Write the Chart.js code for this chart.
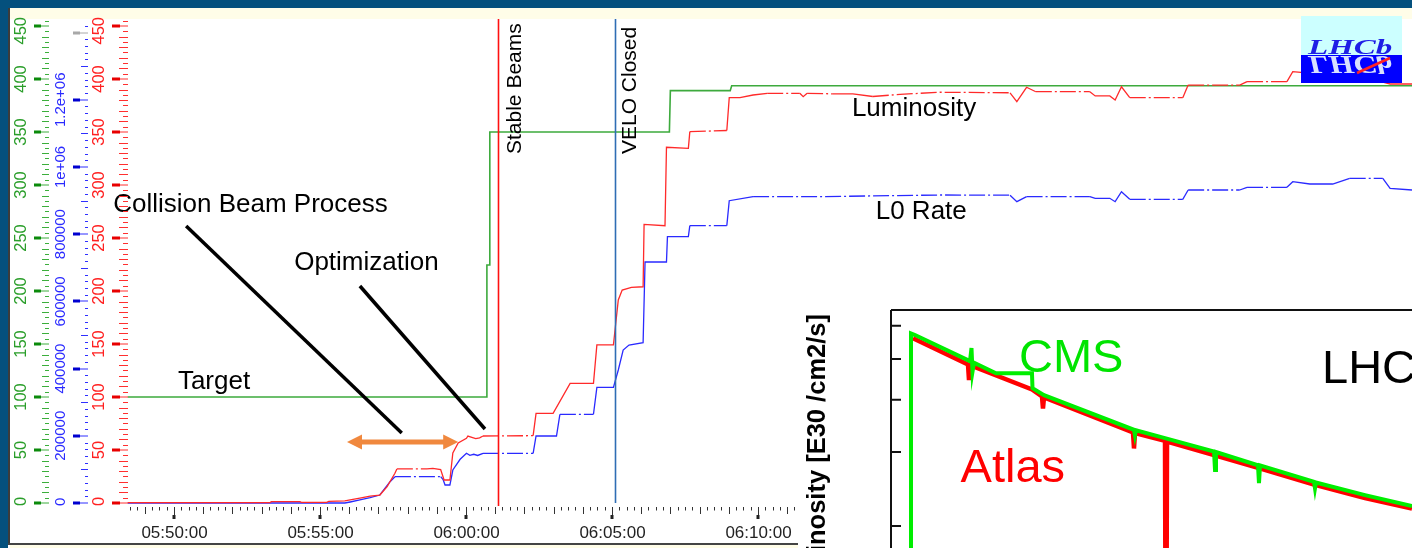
<!DOCTYPE html>
<html><head><meta charset="utf-8">
<script src="https://cdn.jsdelivr.net/npm/chart.js"></script>
<style>
html,body{margin:0;padding:0;background:#fff;width:1412px;height:548px;overflow:hidden;}
.abs{position:absolute;}
</style></head><body>
<div class="abs" style="left:0;top:0;width:1412px;height:8px;background:#04507d"></div>
<div class="abs" style="left:0;top:0;width:8px;height:548px;background:#04507d"></div>
<div class="abs" style="left:10px;top:8px;width:1402px;height:11px;background:#fffde8"></div>
<div class="abs" style="left:8px;top:8px;width:2px;height:537px;background:#3c3c3c"></div>
<div class="abs" style="left:8px;top:543px;width:792px;height:2px;background:#444"></div>
<div class="abs" style="left:10px;top:545px;width:790px;height:3px;background:#fffde8"></div>
<canvas id="main" class="abs" width="1412" height="548" style="left:0;top:0"></canvas>
<div id="inset" class="abs" style="left:798px;top:291px;width:614px;height:257px;background:#fff;overflow:hidden">
  <canvas id="insetChart" width="614" height="400" style="position:absolute;left:0;top:0"></canvas>
</div>
<canvas id="logo" class="abs" width="101" height="67" style="left:1301px;top:16px"></canvas>
<script>
// ---------------- DATA ----------------
const axisStart = '05:48:25.5', axisEnd = '06:32:24';
const lumiAxisMax = 455.66;       // green / red axes
const rateAxisMax = 1437400;      // blue axis

const lumiTimes = ['05:48:25','05:53:17','05:53:20','05:54:19','05:54:22','05:55:14','05:55:18','05:55:51','05:56:02','05:56:22','05:56:43','05:57:03','05:57:18','05:57:34','05:57:38','05:58:40','05:58:52','05:59:08','05:59:15','05:59:27','05:59:33','05:59:44','06:00:01','06:00:04','06:00:12','06:00:20','06:00:28','06:00:35','06:02:18','06:02:24','06:02:59','06:03:34','06:04:22','06:04:29','06:05:03','06:05:13','06:05:21','06:05:40','06:06:04','06:06:06','06:06:49','06:06:52','06:07:37','06:07:40','06:08:56','06:09:01','06:09:23','06:09:50','06:10:19','06:11:26','06:11:33','06:11:41','06:12:34','06:13:15','06:13:56','06:14:52','06:16:14','06:18:38','06:18:52','06:19:12','06:19:31','06:21:22','06:21:33','06:22:03','06:22:14','06:22:27','06:22:44','06:24:33','06:24:44','06:26:30','06:26:45','06:28:07','06:28:19','06:29:30','06:31:24','06:31:39','06:32:24'];
const lumiValues = [0.3,0.3,1.3,1.3,0.5,0.6,1.6,2.0,3.0,4.6,6.5,7.5,15.4,28.0,32.1,32.1,32.6,31.5,21.7,21.7,47.2,56.6,61.0,63.2,62.0,60.8,61.5,63.2,63.5,84.6,84.6,112.9,112.9,149.1,149.1,191.5,200.9,203.5,204.0,262.9,261.6,335.6,334.6,350.3,351.4,382.4,382.4,384.9,386.5,386.5,383.3,386.5,386.0,386.0,383.5,385.5,387.5,387.0,378.6,392.2,388.0,388.0,384.0,384.0,380.2,392.7,382.4,382.4,394.3,394.3,397.5,397.5,406.9,404.0,397.0,395.3,395.3];

const rateTimes = ['05:48:25','05:55:51','05:56:02','05:56:22','05:56:43','05:57:03','05:57:24','05:57:34','05:59:08','05:59:13','05:59:17','05:59:27','05:59:33','05:59:48','06:00:01','06:00:08','06:00:16','06:00:24','06:00:35','06:02:18','06:02:24','06:03:06','06:03:13','06:04:22','06:04:29','06:05:03','06:05:13','06:05:23','06:05:35','06:06:04','06:06:08','06:06:52','06:06:54','06:07:37','06:07:40','06:08:56','06:09:01','06:09:50','06:12:00','06:16:14','06:18:38','06:18:52','06:19:12','06:21:22','06:21:33','06:22:03','06:22:14','06:22:27','06:22:44','06:24:33','06:24:44','06:26:30','06:26:45','06:28:07','06:28:19','06:28:54','06:29:41','06:30:16','06:31:24','06:31:39','06:32:24'];
const rateValues = [0,0,3000,9000,16000,23800,63400,78300,78300,70000,53600,53600,98200,130100,147900,142000,145000,141500,147900,147900,199400,199400,264000,264000,344300,344300,395800,455300,470000,477100,717200,717200,792500,792500,825300,825300,899600,911600,911600,916600,916000,896700,911600,911600,906800,906800,896700,926400,903800,903800,931500,931500,939500,939500,956200,949300,949300,966300,966300,936500,931500];

const targetTimes = ['05:48:25','06:00:43','06:00:43','06:00:48','06:00:49','06:06:58','06:07:00','06:09:03','06:09:06','06:32:24'];
const targetValues = [100,100,224.5,224.5,350,350,389,389,393.7,393.7];

const markerTimes = ['06:01:06','06:05:06'];
const markerLabels = ['Stable Beams','VELO Closed'];

const greenTicks = [0,50,100,150,200,250,300,350,400,450];
const redTicks = [0,50,100,150,200,250,300,350,400,450];
const blueTickValues = [0,200000,400000,600000,800000,1000000,1200000];
const blueTickLabels = ['0','200000','400000','600000','800000','1e+06','1.2e+06'];
const grayMarkValue = 1400000;

const noteTexts = ['Collision Beam Process','Optimization','Target','Luminosity','L0 Rate'];

// inset (LHC luminosity, log scale)
const cmsHours = [0.384,0.384,0.461,1.516,1.545,1.564,1.593,2.015,2.706,2.716,2.937,4.664,4.683,4.702,5.259,6.200,6.219,6.238,7.044,7.063,7.083,8.119,8.138,8.157,9.098,10.0];
const cmsValues = [5,57.5,57.0,49.4,53.1,46.6,49.0,46.2,46.2,42.6,41.0,33.9,32.9,33.8,32.4,30.1,27.2,30.0,27.9,25.3,27.9,25.5,24.6,25.4,23.7,22.3];
const atlasHours = [0.422,1.478,1.497,1.516,2.706,2.898,2.917,2.937,4.645,4.664,4.683,5.259,5.278,5.298,6.200,7.044,8.119,9.098,10.0];
const atlasValues = [56.0,48.5,44.5,48.3,42.3,40.7,38.1,40.5,33.4,30.6,33.3,31.9,5,31.8,29.5,27.5,25.1,23.3,22.0];
const insetTicks = [20,30,40,50,60];
const insetLabels = ['CMS','Atlas','LHC'];

// ---------------- HELPERS ----------------
const toSec = s => { const p = s.split(':').map(Number); return p[0]*3600 + p[1]*60 + p[2]; };
const pad = n => String(n).padStart(2,'0');
const fmt = sec => pad(Math.floor(sec/3600)) + ':' + pad(Math.floor(sec%3600/60)) + ':' + pad(Math.round(sec%60));
const pts = (ts, vs) => ts.map((t,i) => ({x: toSec(t), y: vs[i]}));
const FONT = '"Liberation Sans", Arial, sans-serif';

const dashFlat = c => {
  const dy = Math.abs(c.p1.y - c.p0.y), dx = c.p1.x - c.p0.x;
  return (dy < 2.5 && dx > 25 && c.p0.y < 495) ? [16,3,2,3] : undefined;
};

// annotation layout (positions in data coordinates)
const noteLayout = [
  {t:'05:47:55', v:274.5},
  {t:'05:54:07', v:219.8},
  {t:'05:50:08', v:107.5},
  {t:'06:13:13', v:365.1},
  {t:'06:14:02', v:267.6}
];
const pointerLines = [
  ['05:50:25',261.3,'05:57:48',66.0],
  ['05:56:22',204.7,'06:00:39',69.8]
];
const arrowSpan = ['05:55:55.5','05:59:44',57.5];

function vRuler(ctx, scale, c) {
  const n = Math.floor(scale.max / c.minor + 1e-9);
  for (let i = 0; i <= n; i++) {
    const v = i * c.minor;
    const yy = Math.round(scale.getPixelForValue(v)) + 0.5;
    ctx.lineWidth = 1;
    if (i % c.majorEvery === 0) {
      const gray = c.gray !== undefined && Math.abs(v - c.gray) < 1e-6;
      ctx.fillStyle = gray ? '#a8a8a8' : c.bar;
      ctx.fillRect(c.barX0, yy - 2, c.barX1 - c.barX0, 3);
      ctx.strokeStyle = gray ? '#a8a8a8' : c.color;
      ctx.beginPath(); ctx.moveTo(c.barX1, yy - 0.5); ctx.lineTo(c.end, yy - 0.5); ctx.stroke();
    } else if (i % c.midEvery === 0) {
      ctx.strokeStyle = c.color;
      ctx.beginPath(); ctx.moveTo(c.midX, yy); ctx.lineTo(c.end, yy); ctx.stroke();
    } else {
      ctx.strokeStyle = c.color;
      ctx.beginPath(); ctx.moveTo(c.minX, yy); ctx.lineTo(c.end, yy); ctx.stroke();
    }
  }
  ctx.fillStyle = c.text;
  ctx.font = c.font;
  ctx.textAlign = 'center'; ctx.textBaseline = 'middle';
  c.values.forEach((v, i) => {
    const lab = c.labels[i];
    const half = ctx.measureText(lab).width / 2;
    let yy = scale.getPixelForValue(v);
    yy = Math.max(yy, 17 + half);
    yy = Math.min(yy, 506 - half);
    ctx.save(); ctx.translate(c.labelX, yy); ctx.rotate(-Math.PI/2);
    ctx.fillText(lab, 0, 0); ctx.restore();
  });
}

const rulerPlugin = {
  id: 'rulers',
  afterDraw(chart) {
    const {ctx, scales: {x, y, y2}} = chart;
    ctx.save();
    vRuler(ctx, y, {minor:5, majorEvery:10, midEvery:2, barX0:34, barX1:41, end:49, midX:42, minX:45,
      color:'#3cae3c', bar:'#0b8a0b', text:'#2a9e2a', font:'16.5px ' + FONT, labelX:21,
      values: greenTicks, labels: greenTicks.map(String)});
    vRuler(ctx, y2, {minor:20000, majorEvery:10, midEvery:5, barX0:73, barX1:80, end:88, midX:81, minX:85,
      color:'#2f2fff', bar:'#0000d0', text:'#2a2aff', font:'15px ' + FONT, labelX:60.5, gray: grayMarkValue,
      values: blueTickValues, labels: blueTickLabels});
    vRuler(ctx, y, {minor:5, majorEvery:10, midEvery:2, barX0:112, barX1:120, end:128, midX:119, minX:123,
      color:'#ff3030', bar:'#e80000', text:'#ff2020', font:'16.5px ' + FONT, labelX:99.5,
      values: redTicks, labels: redTicks.map(String)});
    // x ruler
    const start = Math.ceil(x.min / 15) * 15;
    ctx.strokeStyle = '#333'; ctx.fillStyle = '#222'; ctx.lineWidth = 1;
    ctx.font = '17px ' + FONT; ctx.textAlign = 'center'; ctx.textBaseline = 'middle';
    for (let t = start; t <= x.max; t += 15) {
      const xx = Math.round(x.getPixelForValue(t)) + 0.5;
      ctx.beginPath();
      if (t % 300 === 0) {
        ctx.moveTo(xx, 507); ctx.lineTo(xx, 516); ctx.stroke();
        ctx.fillRect(xx - 2, 515, 3, 4);
        ctx.fillText(fmt(t), xx, 533);
      } else if (t % 60 === 0) {
        ctx.moveTo(xx, 507); ctx.lineTo(xx, 514); ctx.stroke();
      } else {
        ctx.moveTo(xx, 507); ctx.lineTo(xx, 510.5); ctx.stroke();
      }
    }
    ctx.restore();
  },
  afterDatasetsDraw(chart) {
    const {ctx, scales: {x, y}} = chart;
    const P = (t, v) => [x.getPixelForValue(toSec(t)), y.getPixelForValue(v)];
    ctx.save();
    // event markers
    const mColors = ['#ff1010', '#2e6db4'];
    const mBottom = [506, 503];
    const mOffset = [22, 20.5];
    markerTimes.forEach((t, i) => {
      const xx = Math.round(x.getPixelForValue(toSec(t))) + 0.5;
      ctx.strokeStyle = mColors[i]; ctx.lineWidth = 1.6;
      ctx.beginPath(); ctx.moveTo(xx, 19); ctx.lineTo(xx, mBottom[i]); ctx.stroke();
      ctx.save(); ctx.translate(xx + mOffset[i], 154); ctx.rotate(-Math.PI/2);
      ctx.fillStyle = '#000'; ctx.font = '21px ' + FONT; ctx.textAlign = 'left'; ctx.textBaseline = 'alphabetic';
      ctx.fillText(markerLabels[i], 0, 0); ctx.restore();
    });
    // pointer lines
    ctx.strokeStyle = '#000'; ctx.lineWidth = 3.5; ctx.lineCap = 'butt';
    pointerLines.forEach(l => {
      const a = P(l[0], l[1]), b = P(l[2], l[3]);
      ctx.beginPath(); ctx.moveTo(a[0], a[1]); ctx.lineTo(b[0], b[1]); ctx.stroke();
    });
    // orange double arrow
    const a1 = P(arrowSpan[0], arrowSpan[2]), a2 = P(arrowSpan[1], arrowSpan[2]);
    const hl = 15, hw = 7.5, yy = a1[1];
    ctx.strokeStyle = ctx.fillStyle = '#f0883e'; ctx.lineWidth = 5;
    ctx.beginPath(); ctx.moveTo(a1[0] + hl - 2, yy); ctx.lineTo(a2[0] - hl + 2, yy); ctx.stroke();
    ctx.beginPath(); ctx.moveTo(a1[0], yy); ctx.lineTo(a1[0] + hl, yy - hw); ctx.lineTo(a1[0] + hl, yy + hw); ctx.closePath(); ctx.fill();
    ctx.beginPath(); ctx.moveTo(a2[0], yy); ctx.lineTo(a2[0] - hl, yy - hw); ctx.lineTo(a2[0] - hl, yy + hw); ctx.closePath(); ctx.fill();
    // notes
    ctx.fillStyle = '#000'; ctx.font = '26px ' + FONT; ctx.textAlign = 'left'; ctx.textBaseline = 'alphabetic';
    noteTexts.forEach((txt, i) => {
      const p = P(noteLayout[i].t, noteLayout[i].v);
      ctx.fillText(txt, p[0], p[1]);
    });
    ctx.restore();
  }
};

new Chart(document.getElementById('main'), {
  type: 'line',
  data: {
    datasets: [
      {label:'Luminosity', data: pts(lumiTimes, lumiValues), yAxisID:'y', borderColor:'#ff2a2a', borderWidth:1.3, pointRadius:0, fill:false, order:0, clip:4, segment:{borderDash: dashFlat}},
      {label:'L0 Rate', data: pts(rateTimes, rateValues), yAxisID:'y2', borderColor:'#2a2aff', borderWidth:1.3, pointRadius:0, fill:false, order:1, clip:4, segment:{borderDash: dashFlat}},
      {label:'Target', data: pts(targetTimes, targetValues), yAxisID:'y', borderColor:'#3daa3d', borderWidth:1.6, pointRadius:0, fill:false, order:2, clip:4}
    ]
  },
  options: {
    responsive:false, animation:false, events:[],
    layout:{padding:{left:128, top:20, right:0, bottom:45}},
    plugins:{legend:{display:false}, tooltip:{enabled:false}},
    elements:{line:{tension:0}, point:{radius:0}},
    scales:{
      x:{type:'linear', min:toSec(axisStart), max:toSec(axisEnd), display:false, bounds:'data'},
      y:{type:'linear', min:0, max:lumiAxisMax, display:false, bounds:'data'},
      y2:{type:'linear', min:0, max:rateAxisMax, display:false, position:'left', bounds:'data'}
    }
  },
  plugins:[rulerPlugin]
});

// ---------------- INSET ----------------
const insetLabelLayout = [
  {h:2.457, v:46.5, color:'#00e400'},
  {h:1.336, v:25.5, color:'#ff0000'},
  {h:8.273, v:43.8, color:'#000000'}
];
const insetPlugin = {
  id:'insetDeco',
  afterDraw(chart) {
    const {ctx, chartArea: ca, scales:{x, y}} = chart;
    ctx.save();
    ctx.strokeStyle = '#111'; ctx.lineWidth = 2;
    ctx.beginPath();
    ctx.moveTo(ca.left, ca.top); ctx.lineTo(ca.right, ca.top);
    ctx.moveTo(ca.left, ca.top); ctx.lineTo(ca.left, ca.bottom);
    insetTicks.forEach(v => { const yy = y.getPixelForValue(v); ctx.moveTo(ca.left, yy); ctx.lineTo(ca.left + 10, yy); });
    ctx.stroke();
    ctx.font = '47px ' + FONT; ctx.textAlign = 'left'; ctx.textBaseline = 'alphabetic';
    insetLabels.forEach((t, i) => {
      const L = insetLabelLayout[i];
      ctx.fillStyle = L.color;
      ctx.fillText(t, x.getPixelForValue(L.h), y.getPixelForValue(L.v));
    });
    ctx.translate(20, 23); ctx.rotate(-Math.PI/2);
    ctx.fillStyle = '#000'; ctx.font = 'bold 25.5px ' + FONT; ctx.textAlign = 'right'; ctx.textBaseline = 'middle';
    ctx.fillText('Luminosity [E30 /cm2/s]', 0, 0);
    ctx.restore();
  }
};
new Chart(document.getElementById('insetChart'), {
  type:'line',
  data:{datasets:[
    {label:'CMS', data: cmsHours.map((h,i)=>({x:h, y:cmsValues[i]})), borderColor:'#00ee00', borderWidth:4, pointRadius:0, fill:false, order:0},
    {label:'Atlas', data: atlasHours.map((h,i)=>({x:h, y:atlasValues[i]})), borderColor:'#ff0000', borderWidth:4.5, pointRadius:0, fill:false, order:1}
  ]},
  options:{
    responsive:false, animation:false, events:[],
    layout:{padding:{left:93, top:19, right:0, bottom:38.6}},
    plugins:{legend:{display:false}, tooltip:{enabled:false}},
    elements:{line:{tension:0}},
    scales:{
      x:{type:'linear', min:0, max:10, display:false, bounds:'data'},
      y:{type:'logarithmic', min:10, max:65.4, display:false, bounds:'data'}
    }
  },
  plugins:[insetPlugin]
});

// ---------------- LOGO ----------------
(function(){
  const g = document.getElementById('logo').getContext('2d');
  g.fillStyle = '#ccffff'; g.fillRect(0, 0, 101, 39);
  g.fillStyle = '#0000ff'; g.fillRect(0, 39, 101, 28);
  g.font = 'italic bold 22px "Liberation Serif", serif';
  g.save(); g.translate(7, 38); g.scale(1.5, 1); g.fillStyle = '#1e1ee6'; g.fillText('LHCb', 0, 0); g.restore();
  g.save(); g.translate(7, 40); g.scale(1.5, -1.15); g.fillStyle = '#d8e0ff'; g.fillText('LHCb', 0, 0); g.restore();
  g.strokeStyle = '#ff2222'; g.lineWidth = 2.5;
  g.beginPath(); g.moveTo(56, 57); g.lineTo(89, 42); g.stroke();
})();
</script>
</body></html>
